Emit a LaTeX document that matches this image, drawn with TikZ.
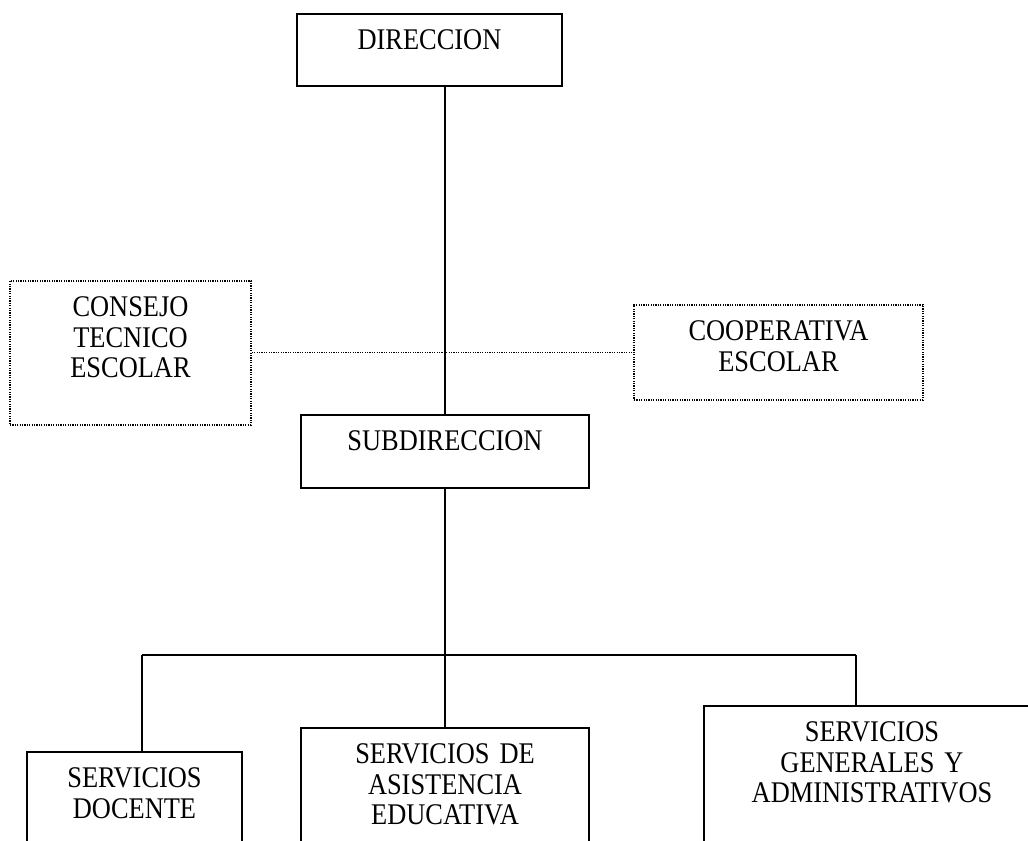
\documentclass[tikz,border=0pt]{standalone}
\usepackage{fontspec}
\setmainfont{Liberation Serif}[FakeStretch=0.88]
\usetikzlibrary{positioning,calc}
\tikzset{
    unidad/.style={
        rectangle,
        draw=black,
        line width=1.3pt,
        inner sep=0pt,
        align=center,
        text height=27pt,
        anchor=north,
        font={\fontsize{22.5pt}{22.9pt}\selectfont}
    },
    apoyo/.style={
        rectangle,
        draw=black,
        line width=1.2pt,
        dash pattern=on 0.9pt off 0.9pt,
        inner sep=0pt,
        align=center,
        text height=27pt,
        anchor=north,
        font={\fontsize{22.5pt}{22.9pt}\selectfont}
    },
    linea/.style={draw, line width=1pt},
    punteada/.style={draw, line width=1pt, dash pattern=on 0.9pt off 0.9pt},
}

\begin{document}
\begin{tikzpicture}[x=0.75pt, y=-0.75pt]
\useasboundingbox (0,0) rectangle (1028,841);
\clip (0,0) rectangle (1028,841);

\node[unidad, text width=198.75pt, text depth=27pt] (direccion) at (429.5,13) {DIRECCION};
\node[unidad, text width=216pt, text depth=27.75pt] (subdir) at (445,414) {SUBDIRECCION};
\node[apoyo, text width=180.75pt, text depth=81pt] (consejo) at (130.5,280) {CONSEJO\\TECNICO\\ESCOLAR};
\node[apoyo, text width=216.75pt, text depth=44.25pt] (cooperativa) at (778.5,304) {COOPERATIVA\\ESCOLAR};
\node[unidad, text width=161.25pt, text depth=84.75pt] (docente) at (134.5,751) {SERVICIOS\\DOCENTE};
\node[unidad, text width=216pt, text depth=102.75pt] (asistencia) at (445,727) {SERVICIOS DE\\ASISTENCIA\\EDUCATIVA};
\node[unidad, text width=252pt, text depth=119.25pt] (generales) at (872,705) {SERVICIOS\\GENERALES Y\\ADMINISTRATIVOS};

\coordinate (bus) at (445,655);
\coordinate (busL) at (142,655);
\coordinate (busR) at (856,655);

\draw[linea] (subdir.north) -- (subdir.north |- direccion.south);
\draw[punteada] (consejo.east) -- (consejo.east -| cooperativa.west);
\draw[linea] (subdir.south) -- (bus);
\draw[linea] (busL) -- (busR);
\draw[linea] (busL) -- (busL |- docente.north);
\draw[linea] (bus) -- (asistencia.north);
\draw[linea] (busR) -- (busR |- generales.north);
\end{tikzpicture}
\end{document}
